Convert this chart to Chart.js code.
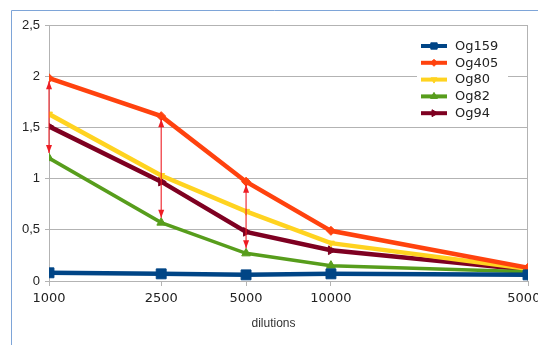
<!DOCTYPE html>
<html>
<head>
<meta charset="utf-8">
<script src="https://cdn.jsdelivr.net/npm/chart.js@4.4.0/dist/chart.umd.min.js"></script>
<style>
  html, body { margin: 0; padding: 0; background: #fff; }
  #wrap { width: 538px; height: 345px; position: relative; }
</style>
</head>
<body>
<div id="wrap"><canvas id="chart" width="538" height="345"></canvas></div>
<script>
// données
const dilutions = [1000, 2500, 5000, 10000, 50000];
const og159 = [0.08, 0.07, 0.06, 0.07, 0.06];
const og405 = [1.98, 1.61, 0.97, 0.49, 0.13];
const og80  = [1.63, 1.03, 0.68, 0.37, 0.12];
const og82  = [1.20, 0.57, 0.27, 0.15, 0.09];
const og94  = [1.51, 0.97, 0.48, 0.30, 0.11];
const yTicks = [0, 0.5, 1, 1.5, 2, 2.5];

// flèches rouges (x, haut, bas)
const arrowX = [1000, 2500, 5000];
const arrowTop = [1.98, 1.61, 0.97];
const arrowBottom = [1.20, 0.57, 0.27];

const pts = (ys) => dilutions.map((x, i) => ({ x: x, y: ys[i] }));

function serie(label, ys, color, style, radius, rot, width, legRadius) {
  return {
    label: label,
    data: pts(ys),
    borderColor: color,
    backgroundColor: color,
    borderWidth: width,
    pointStyle: style,
    pointRadius: radius,
    pointRotation: rot,
    pointBorderWidth: 1,
    pointBackgroundColor: color,
    pointBorderColor: color,
    legendRadius: legRadius,
    tension: 0
  };
}

const frame = {
  id: 'frame',
  beforeDraw(chart) {
    const c = chart.ctx;
    c.save();
    c.strokeStyle = '#7ea5d8';
    c.lineWidth = 1;
    c.beginPath();
    c.moveTo(11.5, 345);
    c.lineTo(11.5, 10.5);
    c.lineTo(538, 10.5);
    c.stroke();
    // bord droit de la zone
    const a = chart.chartArea;
    c.strokeStyle = '#b3b3b3';
    c.beginPath();
    c.moveTo(Math.round(a.right) - 0.5, a.top);
    c.lineTo(Math.round(a.right) - 0.5, a.bottom);
    c.stroke();
    c.restore();
  }
};

const arrows = {
  id: 'arrows',
  afterDatasetsDraw(chart) {
    const c = chart.ctx, xs = chart.scales.x, ys = chart.scales.y;
    c.save();
    c.strokeStyle = '#ee1d24';
    c.fillStyle = '#ee1d24';
    c.lineWidth = 1.1;
    arrowX.forEach((v, i) => {
      const x = xs.getPixelForValue(v);
      const y1 = ys.getPixelForValue(arrowTop[i]) + 3;
      const y2 = ys.getPixelForValue(arrowBottom[i]) - 5;
      c.beginPath();
      c.moveTo(x, y1);
      c.lineTo(x, y2);
      c.stroke();
      c.beginPath();
      c.moveTo(x, y1); c.lineTo(x - 3, y1 + 8); c.lineTo(x + 3, y1 + 8); c.closePath();
      c.fill();
      c.beginPath();
      c.moveTo(x, y2); c.lineTo(x - 3, y2 - 8); c.lineTo(x + 3, y2 - 8); c.closePath();
      c.fill();
    });
    c.restore();
  }
};

const legendBox = {
  id: 'legendBox',
  afterDraw(chart) {
    const c = chart.ctx;
    c.save();
    c.fillStyle = '#fff';
    c.fillRect(417, 36, 91, 86);
    c.font = '13px "DejaVu Sans"';
    c.textBaseline = 'middle';
    chart.data.datasets.forEach((ds, i) => {
      const y = 46 + i * 16.8;
      c.strokeStyle = ds.borderColor;
      c.lineWidth = 4;
      c.beginPath();
      c.moveTo(421, y);
      c.lineTo(447, y);
      c.stroke();
      c.fillStyle = ds.borderColor;
      c.lineWidth = 1;
      Chart.helpers.drawPoint(c, {
        pointStyle: ds.pointStyle,
        rotation: ds.pointRotation,
        radius: ds.legendRadius,
        borderWidth: 1
      }, 434, y);
      c.fillStyle = '#222';
      c.fillText(ds.label, 455, y + 0.5);
    });
    // titre de l'axe
    c.font = '12px "Liberation Sans"';
    c.textAlign = 'center';
    c.fillStyle = '#333';
    c.fillText('dilutions', 273.5, 324);
    c.restore();
  }
};

new Chart(document.getElementById('chart'), {
  type: 'line',
  data: {
    datasets: [
      serie('Og159', og159, '#004586', 'rect', 7, 0, 4.5, 4.5),
      serie('Og405', og405, '#ff420e', 'rectRot', 4.5, 0, 4.5, 3.5),
      serie('Og80', og80, '#ffd320', 'triangle', 4, 180, 4.5, 3.5),
      serie('Og82', og82, '#579d1c', 'triangle', 5, 0, 3.5, 4),
      serie('Og94', og94, '#7e0021', 'triangle', 5, 90, 4.5, 4)
    ]
  },
  options: {
    responsive: false,
    animation: false,
    layout: { padding: { top: 25, right: 10, left: 0, bottom: 0 } },
    plugins: { legend: { display: false }, tooltip: { enabled: false } },
    scales: {
      x: {
        type: 'logarithmic',
        min: 1000,
        max: 50000,
        afterBuildTicks: (s) => { s.ticks = dilutions.map(v => ({ value: v })); },
        afterFit: (s) => { s.height = 64; s.paddingLeft = 0; s.paddingRight = 0; },
        ticks: {
          autoSkip: false,
          maxRotation: 0,
          padding: 5,
          color: '#222',
          font: { family: 'DejaVu Sans', size: 13 },
          callback: (v) => String(v)
        },
        grid: { drawOnChartArea: false, tickLength: 5, color: '#b3b3b3' },
        border: { color: '#b3b3b3' }
      },
      y: {
        min: 0,
        max: 2.5,
        afterBuildTicks: (s) => { s.ticks = yTicks.map(v => ({ value: v })); },
        afterFit: (s) => { s.width = 49; },
        ticks: {
          padding: 5,
          color: '#222',
          font: { family: 'Liberation Sans', size: 13 },
          callback: (v) => String(v).replace('.', ',')
        },
        grid: { color: '#b3b3b3', tickLength: 4 },
        border: { color: '#b3b3b3' }
      }
    }
  },
  plugins: [frame, arrows, legendBox]
});
</script>
</body>
</html>
